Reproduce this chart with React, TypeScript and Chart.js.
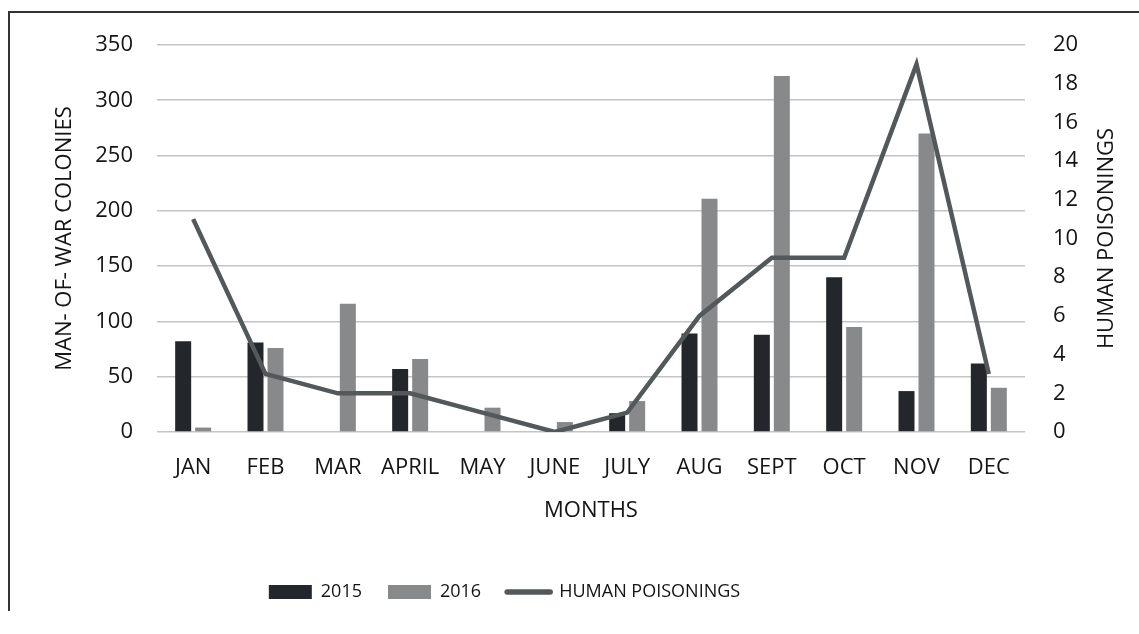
import React, { useEffect, useRef } from "react";
import { Chart, registerables } from "chart.js";

Chart.register(...registerables);

const months = ["JAN", "FEB", "MAR", "APRIL", "MAY", "JUNE", "JULY", "AUG", "SEPT", "OCT", "NOV", "DEC"];
const colonies2015 = [82, 81, 0, 57, 0, 0, 17, 89, 88, 140, 37, 62];
const colonies2016 = [4, 76, 116, 66, 22, 9, 28, 211, 322, 95, 270, 40];
const poisonings = [11, 3, 2, 2, 1, 0, 1, 6, 9, 9, 19, 3];
const seriesNames = ["2015", "2016", "HUMAN POISONINGS"];
const leftTitle = "MAN- OF- WAR COLONIES";
const rightTitle = "HUMAN POISONINGS";
const xTitle = "MONTHS";

const FONT = "'Open Sans', 'DejaVu Sans', sans-serif";
const TEXT = "#141414";
const FS = 22;

const rightTitlePlugin = {
  id: "rightTitle",
  afterDraw(chart: any) {
    const { ctx, chartArea } = chart;
    const s = chart.scales.y1;
    ctx.save();
    ctx.translate(s.right - 32, (chartArea.top + chartArea.bottom) / 2);
    ctx.rotate(-Math.PI / 2);
    ctx.font = `500 ${FS}px ${FONT}`;
    ctx.fillStyle = TEXT;
    ctx.textAlign = "center";
    ctx.textBaseline = "middle";
    ctx.fillText(rightTitle, 0, 0);
    ctx.restore();
  },
};

const legendShiftPlugin = {
  id: "legendShift",
  afterLayout(chart: any) {
    const lg = chart.legend;
    if (!lg) return;
    const dx = -89;
    lg.left += dx;
    lg.right += dx;
  },
};

export default function App() {
  const ref = useRef<HTMLCanvasElement | null>(null);

  useEffect(() => {
    if (!ref.current) return;
    const font = { family: FONT, size: FS, weight: "500" as any };
    const chart = new Chart(ref.current, {
      type: "bar",
      data: {
        labels: months,
        datasets: [
          {
            type: "bar",
            label: seriesNames[0],
            data: colonies2015,
            backgroundColor: "#23272b",
            borderWidth: 0,
            yAxisID: "y",
            order: 2,
            categoryPercentage: 0.553,
            barPercentage: 0.8,
          } as any,
          {
            type: "bar",
            label: seriesNames[1],
            data: colonies2016,
            backgroundColor: "#87898b",
            borderWidth: 0,
            yAxisID: "y",
            order: 2,
            categoryPercentage: 0.553,
            barPercentage: 0.8,
          } as any,
          {
            type: "line",
            label: seriesNames[2],
            data: poisonings,
            borderColor: "#53585b",
            backgroundColor: "#53585b",
            borderWidth: 4.5,
            tension: 0,
            pointRadius: 0,
            yAxisID: "y1",
            order: 0,
          } as any,
        ],
      },
      options: {
        responsive: false,
        animation: false,
        layout: { padding: { left: 48, right: 0, top: 45, bottom: 23 } },
        plugins: {
          tooltip: { enabled: false },
          legend: {
            position: "bottom",
            labels: {
              usePointStyle: true,
              pointStyleWidth: 43,
              boxWidth: 43,
              boxHeight: 14,
              padding: 26,
              color: TEXT,
              font: { family: FONT, size: 18, weight: "500" as any },
              sort: (a: any, b: any) => a.datasetIndex - b.datasetIndex,
              generateLabels: (chart: any) => {
                const items = Chart.defaults.plugins.legend.labels.generateLabels(chart);
                return items.map((it: any) => {
                  const ds = chart.data.datasets[it.datasetIndex];
                  if (ds.type === "line") {
                    return { ...it, pointStyle: "line", lineWidth: 5.5, lineCap: "round", strokeStyle: "#53585b" };
                  }
                  return { ...it, pointStyle: "rect", lineWidth: 0 };
                });
              },
            },
          },
        },
        scales: {
          x: {
            grid: { display: false, drawTicks: false },
            border: { display: false },
            ticks: { color: TEXT, font, padding: 23, maxRotation: 0 },
            title: {
              display: true,
              text: xTitle,
              color: TEXT,
              font,
              padding: { top: 0, bottom: 33 },
            },
            afterFit: (s: any) => {
              s.height = 125;
            },
          },
          y: {
            position: "left",
            min: 0,
            max: 350,
            ticks: { stepSize: 50, color: TEXT, font, padding: 24 },
            grid: { color: "#c4c4c4", lineWidth: 1.6, drawTicks: false },
            border: { display: false },
            title: {
              display: true,
              text: leftTitle,
              color: TEXT,
              font,
              padding: { top: 4, bottom: 4 },
            },
            afterFit: (s: any) => {
              s.width = 109;
            },
          },
          y1: {
            position: "right",
            min: 0,
            max: 20,
            ticks: { stepSize: 2, color: TEXT, font, padding: 28 },
            grid: { display: false, drawTicks: false },
            border: { display: false },
            afterFit: (s: any) => {
              s.width = 114;
            },
          },
        },
      },
      plugins: [rightTitlePlugin, legendShiftPlugin],
    } as any);
    return () => chart.destroy();
  }, []);

  return (
    <div>
      <div
        style={{
          position: "fixed",
          left: 8,
          top: 11,
          width: 1140,
          height: 600,
          borderTop: "2px solid #333",
          borderLeft: "2px solid #333",
          boxSizing: "border-box",
        }}
      />
      <canvas
        ref={ref}
        width={1139}
        height={634}
        style={{ position: "fixed", left: 0, top: 0, width: 1139, height: 634 }}
      />
    </div>
  );
}
